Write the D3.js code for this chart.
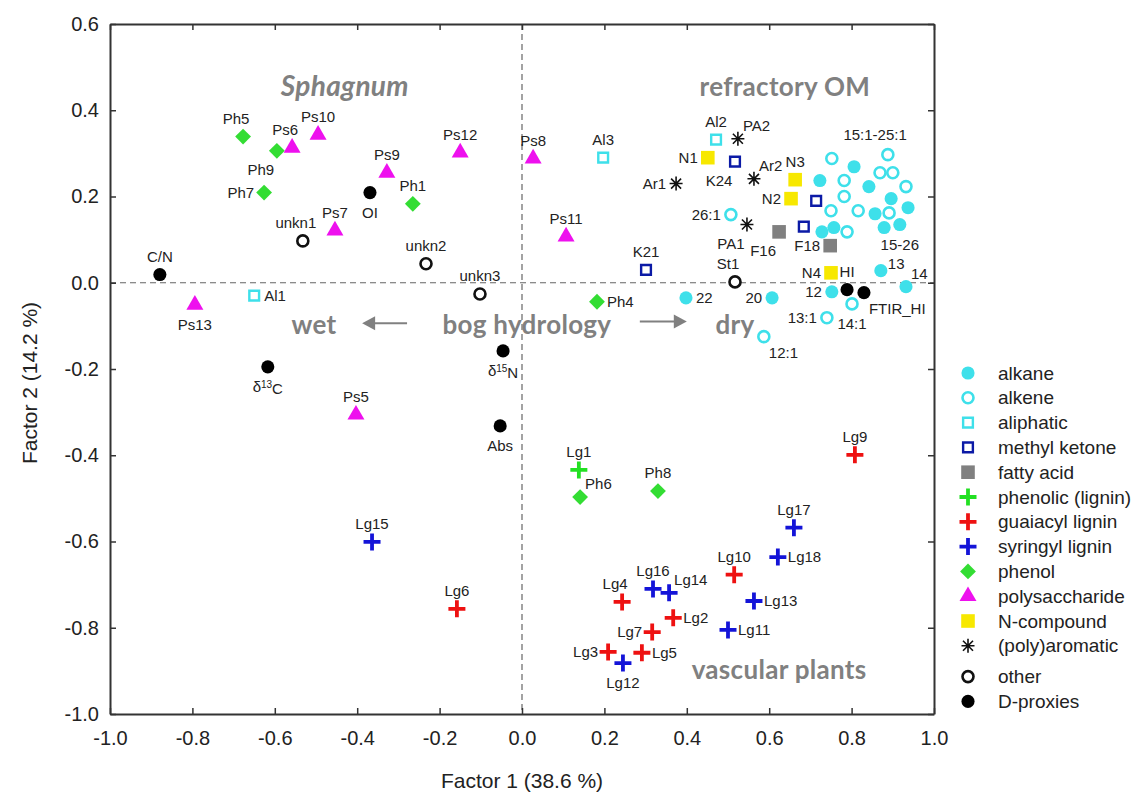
<!DOCTYPE html>
<html>
<head>
<meta charset="utf-8">
<script src="https://cdn.jsdelivr.net/npm/d3@7"></script>
<style>
  body { margin: 0; background: #fff; }
  text { font-family: "Liberation Sans", Arial, sans-serif; }
</style>
</head>
<body>
<div id="chart"></div>
<script>
// [label, factor 1, factor 2]
const alkane = [
  ["22", 0.398, -0.035], ["20", 0.607, -0.035], ["12", 0.752, -0.021], ["13", 0.871, 0.028], ["14", 0.932, -0.009],
  ["", 0.806, 0.269], ["", 0.723, 0.237], ["", 0.842, 0.223], ["", 0.896, 0.195], ["", 0.937, 0.174],
  ["", 0.857, 0.160], ["", 0.917, 0.135], ["", 0.879, 0.128], ["", 0.728, 0.118], ["", 0.757, 0.128]
];
const alkene = [
  ["26:1", 0.507, 0.158], ["12:1", 0.587, -0.125], ["13:1", 0.740, -0.081], ["14:1", 0.801, -0.049],
  ["", 0.752, 0.288], ["", 0.888, 0.297], ["", 0.869, 0.255], ["", 0.900, 0.255], ["", 0.782, 0.237],
  ["", 0.932, 0.223], ["", 0.782, 0.200], ["", 0.750, 0.167], ["", 0.816, 0.167], ["", 0.891, 0.162], ["", 0.789, 0.118]
];
const aliphatic = [["Al1", -0.650, -0.030], ["Al2", 0.471, 0.332], ["Al3", 0.197, 0.290]];
const methylKetone = [["K21", 0.301, 0.030], ["K24", 0.517, 0.281], ["", 0.714, 0.190], ["", 0.684, 0.130]];
const fattyAcid = [["F16", 0.624, 0.118], ["F18", 0.748, 0.086]];
const phenolicLignin = [["Lg1", 0.138, -0.434]];
const guaiacyl = [
  ["Lg9", 0.808, -0.399], ["Lg10", 0.515, -0.677], ["Lg4", 0.243, -0.740], ["Lg2", 0.367, -0.777],
  ["Lg7", 0.316, -0.810], ["Lg3", 0.209, -0.856], ["Lg5", 0.291, -0.858], ["Lg6", -0.158, -0.756]
];
const syringyl = [
  ["Lg15", -0.364, -0.601], ["Lg17", 0.660, -0.568], ["Lg18", 0.621, -0.636], ["Lg13", 0.563, -0.738],
  ["Lg16", 0.318, -0.710], ["Lg14", 0.357, -0.719], ["Lg11", 0.500, -0.805], ["Lg12", 0.245, -0.882]
];
const phenol = [
  ["Ph5", -0.677, 0.339], ["Ph9", -0.595, 0.306], ["Ph7", -0.626, 0.209], ["Ph1", -0.265, 0.183],
  ["Ph4", 0.182, -0.044], ["Ph6", 0.141, -0.497], ["Ph8", 0.330, -0.483]
];
const polysaccharide = [
  ["Ps6", -0.558, 0.313], ["Ps10", -0.495, 0.343], ["Ps9", -0.328, 0.255], ["Ps7", -0.454, 0.121],
  ["Ps12", -0.150, 0.302], ["Ps8", 0.027, 0.288], ["Ps11", 0.107, 0.107], ["Ps13", -0.794, -0.051],
  ["Ps5", -0.403, -0.306]
];
const nCompound = [["N1", 0.451, 0.290], ["N2", 0.653, 0.195], ["N3", 0.663, 0.239], ["N4", 0.750, 0.023]];
const aromatic = [["Ar1", 0.374, 0.230], ["Ar2", 0.563, 0.241], ["PA1", 0.546, 0.135], ["PA2", 0.524, 0.334]];
const other = [["unkn1", -0.532, 0.097], ["unkn2", -0.233, 0.044], ["unkn3", -0.102, -0.026], ["St1", 0.517, 0.002]];
const dProxies = [
  ["C/N", -0.879, 0.019], ["OI", -0.369, 0.209], ["δ13C", -0.617, -0.195], ["δ15N", -0.046, -0.158],
  ["Abs", -0.053, -0.332], ["HI", 0.789, -0.016], ["FTIR_HI", 0.830, -0.023]
];

// where each point label sits (default: above)
const labelSide = {
  Ph5: "tl", Ps6: "tl", Ph9: "bl", Ph7: "l", OI: "b", unkn1: "tl", St1: "tl",
  N1: "l", K24: "bl", Ar1: "l", PA2: "tr", Ar2: "tr", N2: "l", "26:1": "l", PA1: "bl", F16: "bl", F18: "l",
  N4: "l", FTIR_HI: "br", "12": "l", "14:1": "b", "13:1": "l", "13": "rt", "14": "tr", "22": "r", "20": "l",
  "12:1": "br", Ph4: "r", Al1: "r", Ps13: "b", "δ13C": "b", "δ15N": "b", Abs: "b",
  Ph6: "tr", Lg18: "r", Lg13: "r", Lg14: "tr", Lg4: "tl", Lg2: "r", Lg11: "r", Lg7: "l", Lg3: "l", Lg5: "r", Lg12: "b"
};
const sideOffset = {
  t: [0, -18, "middle"], b: [0, 20, "middle"], l: [-10, 0, "end"], r: [10, 0, "start"],
  tl: [-7, -18, "middle"], tr: [5, -13, "start"], rt: [7, -7, "start"],
  bl: [-16, 19, "middle"], br: [5, 16, "start"]
};

const categories = [
  { name: "alkane", data: alkane, mark: "dot", color: "#3ee0ea" },
  { name: "alkene", data: alkene, mark: "ring", color: "#3ee0ea" },
  { name: "aliphatic", data: aliphatic, mark: "sqOpen", color: "#3ee0ea" },
  { name: "methyl ketone", data: methylKetone, mark: "sqOpen", color: "#0b1aa6" },
  { name: "fatty  acid", data: fattyAcid, mark: "sqFill", color: "#808080" },
  { name: "phenolic (lignin)", data: phenolicLignin, mark: "plus", color: "#22e022" },
  { name: "guaiacyl lignin", data: guaiacyl, mark: "plus", color: "#ee1111" },
  { name: "syringyl lignin", data: syringyl, mark: "plus", color: "#1414d8" },
  { name: "phenol", data: phenol, mark: "diamond", color: "#33dd33" },
  { name: "polysaccharide", data: polysaccharide, mark: "tri", color: "#ee10ee" },
  { name: "N-compound", data: nCompound, mark: "sqFill", color: "#f7e800" },
  { name: "(poly)aromatic", data: aromatic, mark: "star", color: "#111" },
  { name: "other", data: other, mark: "ring", color: "#111" },
  { name: "D-proxies", data: dProxies, mark: "dot", color: "#000" }
];

// free text on the plot, in factor units
const notes = [
  { text: "Sphagnum", x: -0.43, y: 0.432, italic: true },
  { text: "refractory OM", x: 0.638, y: 0.432 },
  { text: "wet", x: -0.505, y: -0.118 },
  { text: "bog hydrology", x: 0.012, y: -0.118 },
  { text: "dry", x: 0.517, y: -0.118 },
  { text: "vascular plants", x: 0.624, y: -0.918 }
];
const arrows = [[-0.279, -0.388, -0.094], [0.286, 0.40, -0.090]];
const groupLabels = [["15:1-25:1", 0.857, 0.343], ["15-26", 0.917, 0.088]];

const W = 1137, H = 797;
const plot = { left: 110, right: 934, top: 24, bottom: 714 };

const svg = d3.select("#chart").append("svg")
  .attr("width", W).attr("height", H)
  .style("background", "#fff");

const x = d3.scaleLinear().domain([-1, 1]).range([plot.left, plot.right]);
const y = d3.scaleLinear().domain([-1, 0.6]).range([plot.bottom, plot.top]);
const fmt = d => d.toFixed(1);

// zero lines
svg.append("line")
  .attr("x1", x(0)).attr("x2", x(0)).attr("y1", plot.top).attr("y2", plot.bottom)
  .attr("stroke", "#666").attr("stroke-dasharray", "6,4").attr("stroke-width", 1.2);
svg.append("line")
  .attr("x1", plot.left).attr("x2", plot.right).attr("y1", y(0)).attr("y2", y(0))
  .attr("stroke", "#666").attr("stroke-dasharray", "6,4").attr("stroke-width", 1.2);

// axes, ticks pointing inward on all four sides
const styleAxis = g => {
  g.select(".domain").attr("stroke", "#333").attr("stroke-width", 2);
  g.selectAll(".tick line").attr("stroke", "#333").attr("stroke-width", 1.5);
  g.selectAll(".tick text").attr("fill", "#222").style("font-size", "20px")
    .style("font-family", "'Liberation Sans', Arial, sans-serif");
};
svg.append("g").attr("transform", `translate(0,${plot.bottom})`)
  .call(d3.axisBottom(x).ticks(10).tickFormat(fmt).tickSizeInner(-6).tickSizeOuter(0).tickPadding(17))
  .call(styleAxis);
svg.append("g").attr("transform", `translate(0,${plot.top})`)
  .call(d3.axisTop(x).ticks(10).tickFormat("").tickSizeInner(-6).tickSizeOuter(0))
  .call(styleAxis);
svg.append("g").attr("transform", `translate(${plot.left},0)`)
  .call(d3.axisLeft(y).ticks(8).tickFormat(fmt).tickSizeInner(-6).tickSizeOuter(0).tickPadding(11))
  .call(styleAxis);
svg.append("g").attr("transform", `translate(${plot.right},0)`)
  .call(d3.axisRight(y).ticks(8).tickFormat("").tickSizeInner(-6).tickSizeOuter(0))
  .call(styleAxis);

svg.append("text")
  .attr("x", x(0)).attr("y", 788)
  .attr("text-anchor", "middle").style("font-size", "21px").attr("fill", "#222")
  .text("Factor 1 (38.6 %)");
svg.append("text")
  .attr("transform", `translate(37,${(plot.top + plot.bottom) / 2 + 14}) rotate(-90)`)
  .attr("text-anchor", "middle").style("font-size", "21px").attr("fill", "#222")
  .text("Factor 2 (14.2 %)");

// annotations
svg.selectAll(".note").data(notes).join("text")
  .attr("class", "note")
  .attr("x", d => x(d.x)).attr("y", d => y(d.y))
  .attr("text-anchor", "middle")
  .style("font-family", "Lato, 'Open Sans', sans-serif")
  .style("font-weight", "bold")
  .style("font-style", d => d.italic ? "italic" : "normal")
  .style("font-size", d => d.italic ? "28px" : "26px")
  .style("letter-spacing", "0.3px")
  .attr("fill", "#808080")
  .text(d => d.text);

arrows.forEach(([x0, x1, yy]) => {
  const dir = Math.sign(x1 - x0);
  const xe = x(x1), ye = y(yy);
  svg.append("line")
    .attr("x1", x(x0)).attr("x2", xe - dir * 10).attr("y1", ye).attr("y2", ye)
    .attr("stroke", "#808080").attr("stroke-width", 2);
  svg.append("path")
    .attr("d", `M${xe},${ye}L${xe - dir * 13},${ye - 7}L${xe - dir * 13},${ye + 7}Z`)
    .attr("fill", "#808080");
});

// markers
const drawMark = (g, mark, color) => {
  if (mark === "dot") {
    g.append("path").attr("d", d3.symbol().type(d3.symbolCircle).size(135)).attr("fill", color);
  } else if (mark === "ring") {
    g.append("path").attr("d", d3.symbol().type(d3.symbolCircle).size(95))
      .attr("fill", "#fff").attr("stroke", color).attr("stroke-width", 2.6);
  } else if (mark === "sqOpen") {
    g.append("path").attr("d", d3.symbol().type(d3.symbolSquare).size(95))
      .attr("fill", "#fff").attr("stroke", color).attr("stroke-width", 2.4);
  } else if (mark === "sqFill") {
    g.append("path").attr("d", d3.symbol().type(d3.symbolSquare).size(185)).attr("fill", color);
  } else if (mark === "plus") {
    g.append("path").attr("d", "M-8.5,0H8.5M0,-8.5V8.5")
      .attr("stroke", color).attr("stroke-width", 3.8).attr("fill", "none");
  } else if (mark === "diamond") {
    g.append("path").attr("d", d3.symbol().type(d3.symbolSquare).size(125))
      .attr("transform", "rotate(45)").attr("fill", color);
  } else if (mark === "tri") {
    g.append("path").attr("d", d3.symbol().type(d3.symbolTriangle).size(125)).attr("fill", color);
  } else if (mark === "star") {
    g.append("path").attr("d", "M-6.5,0H6.5M0,-7V7M-5,-5L5,5M-5,5L5,-5")
      .attr("stroke", color).attr("stroke-width", 1.6).attr("fill", "none");
  }
};

const points = categories.flatMap(c => c.data.map(d => ({ cat: c, label: d[0], f1: d[1], f2: d[2] })));

svg.selectAll(".pt").data(points).join("g")
  .attr("class", "pt")
  .attr("transform", d => `translate(${x(d.f1)},${y(d.f2)})`)
  .each(function (d) { drawMark(d3.select(this), d.cat.mark, d.cat.color); });

// point labels
const lab = svg.selectAll(".lab").data(points.filter(d => d.label)).join("text")
  .attr("class", "lab")
  .attr("x", d => x(d.f1) + sideOffset[labelSide[d.label] || "t"][0])
  .attr("y", d => y(d.f2) + sideOffset[labelSide[d.label] || "t"][1])
  .attr("dy", "0.35em")
  .attr("text-anchor", d => sideOffset[labelSide[d.label] || "t"][2])
  .style("font-size", "15px")
  .attr("fill", "#222");
lab.each(function (d) {
  const t = d3.select(this);
  const m = d.label.match(/^δ(\d+)(\w)$/);
  if (m) {
    t.append("tspan").text("δ");
    t.append("tspan").attr("dy", "-0.45em").style("font-size", "10px").text(m[1]);
    t.append("tspan").attr("dy", "0.45em").text(m[2]);
  } else {
    t.text(d.label);
  }
});

svg.selectAll(".glab").data(groupLabels).join("text")
  .attr("class", "glab")
  .attr("x", d => x(d[1])).attr("y", d => y(d[2])).attr("dy", "0.35em")
  .attr("text-anchor", "middle").style("font-size", "15px").attr("fill", "#222")
  .text(d => d[0]);

// legend
const legend = svg.append("g").attr("transform", "translate(968,0)");
categories.forEach((c, i) => {
  const ly = 373 + i * 24.8 + (i >= 12 ? 6 : 0);
  const g = legend.append("g").attr("transform", `translate(0,${ly})`);
  drawMark(g, c.mark, c.color);
  g.append("text").attr("x", 30).attr("dy", "0.35em")
    .style("font-size", "19px").attr("fill", "#222")
    .text(c.name);
});
</script>
</body>
</html>
